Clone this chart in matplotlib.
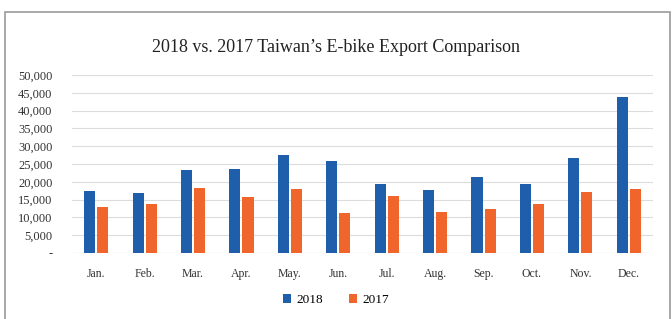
import matplotlib
matplotlib.use("Agg")
import matplotlib.pyplot as plt
import numpy as np
from matplotlib.patches import Rectangle

months = ["Jan.", "Feb.", "Mar.", "Apr.", "May.", "Jun.", "Jul.", "Aug.", "Sep.", "Oct.", "Nov.", "Dec."]
exports_2018 = [17500, 16900, 23300, 23700, 27400, 25800, 19300, 17600, 21400, 19400, 26800, 43900]
exports_2017 = [13000, 13900, 18200, 15600, 17900, 11300, 16100, 11600, 12300, 13700, 17000, 18000]
yticks = [0, 5000, 10000, 15000, 20000, 25000, 30000, 35000, 40000, 45000, 50000]
ytick_labels = ["-", "5,000", "10,000", "15,000", "20,000", "25,000", "30,000", "35,000", "40,000", "45,000", "50,000"]

blue = "#1F5EAB"
orange = "#F0652B"
serif = ["Liberation Serif", "DejaVu Serif"]

fig = plt.figure(figsize=(6.72, 3.19), dpi=100)
fig.patch.set_facecolor("white")
# outer frame
fig.add_artist(Rectangle((5/672, -0.05), 665/672, 1 - 12/319 + 0.05, transform=fig.transFigure,
                         fill=False, edgecolor="#9a9a9a", linewidth=1.2))

ax = fig.add_axes([72/672, 1 - 253/319, (653-72)/672, (253-75)/319])
x = np.arange(len(months))
w = 0.23
ax.bar(x - w/2 - 0.02, exports_2018, width=w, color=blue, label="2018", zorder=3)
ax.bar(x + w/2 + 0.02, exports_2017, width=w, color=orange, label="2017", zorder=3)

ax.set_xlim(-0.5, len(months) - 0.5)
ax.set_ylim(0, 50000)
ax.set_yticks(yticks)
ax.set_yticklabels(ytick_labels, fontfamily=serif, fontsize=9, color="#333333")
ax.set_xticks(x)
ax.set_xticklabels(months, fontfamily=serif, fontsize=8.5, color="#333333")
ax.tick_params(axis="both", length=0)
ax.tick_params(axis="x", pad=11)
ax.tick_params(axis="y", pad=14)
ax.grid(axis="y", color="#dcdcdc", linewidth=0.8, zorder=0)
for s in ax.spines.values():
    s.set_visible(False)
ax.axhline(0, color="#dcdcdc", linewidth=0.8, zorder=1)

fig.text(0.5, 1 - 48/319, "2018 vs. 2017 Taiwan\u2019s E-bike Export Comparison", ha="center", va="center",
         fontfamily=serif, fontsize=13, color="#222222")

leg = fig.legend(loc="center", bbox_to_anchor=(0.5, 1 - 300/319), ncol=2, frameon=False,
                 prop={"family": serif, "size": 9.5}, handlelength=0.6, handleheight=0.7,
                 columnspacing=2.0, handletextpad=0.4)

fig.savefig("out.png", dpi=100, facecolor="white")
